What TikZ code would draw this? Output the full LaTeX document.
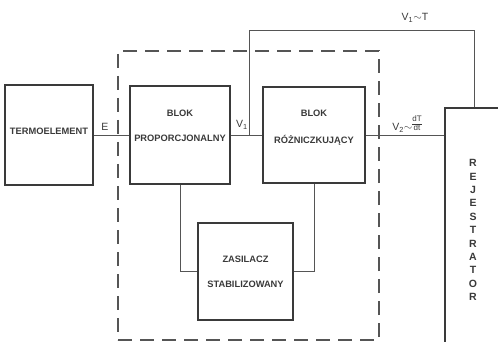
\documentclass[tikz,border=0pt]{standalone}
\usepackage{fontspec}
\setmainfont{Liberation Sans}
\usetikzlibrary{positioning,calc}
\definecolor{ink}{HTML}{3A3A3A}
\definecolor{wireink}{HTML}{555555}

\begin{document}
\begin{tikzpicture}[x=1pt, y=-1pt,
  every node/.style={font=\fontsize{9.3}{10}\selectfont\bfseries, text=ink},
  blk/.style  ={draw=ink, line width=1.8pt, inner sep=0pt},
  txt/.style  ={align=center, inner sep=1pt},
  lbl/.style  ={font=\fontsize{10.5}{11}\selectfont, inner sep=1pt},
  frame/.style={draw=wireink, line width=1.1pt, dash pattern=on 14pt off 8pt,
                inner sep=0pt},
  wire/.style ={draw=wireink, line width=0.9pt}]

\useasboundingbox (0,0) rectangle (498,342);
\clip (0,0) rectangle (498,342);

%% Dashed measuring unit
\node[frame, minimum width=261pt, minimum height=289pt] (unit) at (248.5,195.5) {};

%% Blocks
\node[blk, minimum width=88pt,  minimum height=100pt] (term) at (49,135)    {};
\node[blk, minimum width=100pt, minimum height=98pt]  (prop) at (180,135)   {};
\node[blk, minimum width=102pt, minimum height=96pt]  (rozn) at (314,135)   {};
\node[blk, minimum width=95pt,  minimum height=97pt]  (zas)  at (245.5,271.5) {};
\node[blk, minimum width=100pt, minimum height=260pt] (rej)  at (495,238)   {};

%% Block texts
\node[txt] (termt) at (49,131)  {TERMOELEMENT};
\node[txt] (propt) at (180,126) {BLOK\\[15pt]PROPORCJONALNY};
\node[txt] (roznt) at (314,128) {BLOK\\[17pt]RÓŻNICZKUJĄCY};
\node[txt] (zast)  at (245.5,272) {ZASILACZ\\[15pt]STABILIZOWANY};
\node[txt, font=\fontsize{10.5}{13.4}\selectfont\bfseries] (rejt) at (473,230)
  {R\\E\\J\\E\\S\\T\\R\\A\\T\\O\\R};

%% Signal path
\draw[wire] (term.east) -- (prop.west);
\draw[wire] (prop.east) -- (rozn.west);
\draw[wire] (rozn.east) -- (rozn.east -| rej.west);

%% V1 taken straight to the recorder
\coordinate (tap) at ($(prop.east)!0.58!(rozn.west)$);
\coordinate (ret) at (474,30);
\draw[wire] (tap) |- (ret) -- (ret |- rej.north);

%% Supply lines
\draw[wire] (prop.south) |- (zas.west);
\draw[wire] (rozn.south) |- (zas.east);

%% Signal labels
\node[lbl] (lE)  at (105,127) {E};
\node[lbl] (lV1) at (242,125) {V\textsubscript{1}};
\node[lbl, anchor=south] (lV2) at (407,134)
  {V\textsubscript{2}$\sim${\fontsize{8}{8}\selectfont\begin{tabular}[b]{@{}c@{}}dT\\\hline dt\end{tabular}}};
\node[lbl] (lT)  at (415,18)  {V\textsubscript{1}$\sim$T};
\end{tikzpicture}
\end{document}
